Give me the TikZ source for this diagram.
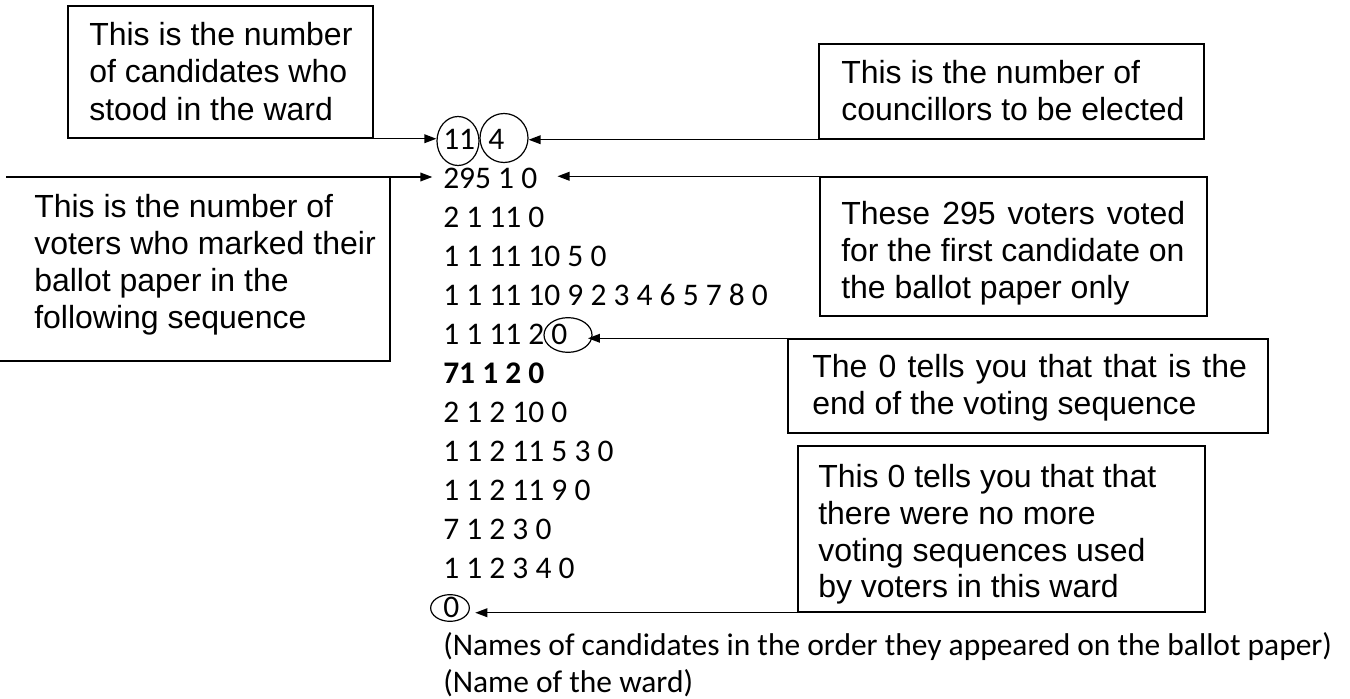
\documentclass[tikz,border=0pt]{standalone}
\usepackage{fontspec}
\setmainfont{Carlito}
\newfontfamily\arialf{Liberation Sans}
\usetikzlibrary{arrows.meta,shapes.geometric,fit}
\begin{document}
\begin{tikzpicture}[x=0.75pt,y=-0.75pt,
  boxf/.style={draw,line width=1.1pt,inner sep=0pt},
  atxt/.style={font=\arialf\fontsize{24pt}{28pt}\selectfont,inner sep=0pt,anchor=base west},
  dtxt/.style={font=\fontsize{23.6pt}{29pt}\selectfont,inner sep=0pt,anchor=base west},
  ring/.style={draw,ellipse,line width=0.9pt,inner sep=0pt},
  arr/.style={line width=1.1pt,-{Triangle[length=9pt,width=6.5pt]}},
  edgeline/.style={line width=1.1pt}]
\useasboundingbox (0,0) rectangle (1350,699);

% data column
\node[dtxt] (d1) at (443,149) {11\hspace{10pt}4};
\node[dtxt] (d2) at (443,188) {295 1 0};
\node[dtxt] (d3) at (443,227) {2 1 11 0};
\node[dtxt] (d4) at (443,266) {1 1 11 10 5 0};
\node[dtxt] (d5) at (443,305) {1 1 11 10 9 2 3 4 6 5 7 8 0};
\node[dtxt] (d6) at (443,344) {1 1 11 2 0};
\node[dtxt,font=\bfseries\fontsize{23.6pt}{29pt}\selectfont] (d7) at (443,383) {71 1 2 0};
\node[dtxt] (d8) at (443,422) {2 1 2 10 0};
\node[dtxt] (d9) at (443,461) {1 1 2 11 5 3 0};
\node[dtxt] (d10) at (443,500) {1 1 2 11 9 0};
\node[dtxt] (d11) at (443,539) {7 1 2 3 0};
\node[dtxt] (d12) at (443,578) {1 1 2 3 4 0};
\node[dtxt] (d13) at (443,617) {0};
\node[dtxt] (d14) at (443,655) {(Names of candidates in the order they appeared on the ballot paper)};
\node[dtxt] (d15) at (443,692) {(Name of the ward)};

% rings
\node[ring,minimum width=31.5pt,minimum height=36.75pt] (e11) at (458,141) {};
\node[ring,minimum width=36pt,minimum height=36.75pt] (e4) at (504,138) {};
\node[ring,minimum width=36pt,minimum height=26pt] (e6) at (568,335) {};
\node[ring,minimum width=29pt,minimum height=20pt] (e13) at (450,608) {};

% boxes
\node[boxf,fit={(68,6)(373,138)}] (b1) {};
\node[boxf,fit={(819,44)(1204,139)}] (b3) {};
\node[boxf,fit={(820,177)(1207,316)}] (b4) {};
\node[boxf,fit={(788,339)(1268,433)}] (b5) {};
\node[boxf,fit={(798,446)(1205,612)}] (b6) {};

% open box on the left
\coordinate (b2top) at (6,177);
\coordinate (b2tr) at (390,177);
\coordinate (b2br) at (390,361);
\coordinate (b2bl) at (0,361);
\draw[edgeline] (b2bl) -- (b2br) -- (b2tr);

% box texts
\node[atxt] (t1a) at (89,46) {This is the number};
\node[atxt] (t1b) at (89,83) {of candidates who};
\node[atxt] (t1c) at (89,120) {stood in the ward};

\node[atxt] (t2a) at (34,217) {This is the number of};
\node[atxt] (t2b) at (34,254) {voters who marked their};
\node[atxt] (t2c) at (34,291) {ballot paper in the};
\node[atxt] (t2d) at (34,328) {following sequence};

\node[atxt] (t3a) at (841,84) {This is the number of};
\node[atxt] (t3b) at (841,121) {councillors to be elected};

\node[atxt] (t4a) at (841,224) {\makebox[258pt][s]{These 295 voters voted}};
\node[atxt] (t4b) at (841,261) {for the first candidate on};
\node[atxt] (t4c) at (841,298) {the ballot paper only};

\node[atxt] (t5a) at (812,377) {\makebox[326pt][s]{The 0 tells you that that is the}};
\node[atxt] (t5b) at (812,414) {end of the voting sequence};

\node[atxt] (t6a) at (818,487) {This 0 tells you that that};
\node[atxt] (t6b) at (818,524) {there were no more};
\node[atxt] (t6c) at (818,561) {voting sequences used};
\node[atxt] (t6d) at (818,597) {by voters in this ward};

% connectors
\draw[arr] (b1.south east) -- (b1.south east -| e11.west);
\draw[arr,shorten >=8pt] (b2top) -- (b2top -| d2.west);
\draw[arr] (b3.south west) -- (b3.south west -| e4.east);
\draw[arr,shorten >=15pt] (b4.north west) -- (b4.north west -| d2.east);
\draw[arr,shorten >=-3.5pt] (b5.north west) -- (b5.north west -| e6.east);
\draw[arr,shorten >=4pt] (b6.south west) -- (b6.south west -| e13.east);
\end{tikzpicture}
\end{document}
